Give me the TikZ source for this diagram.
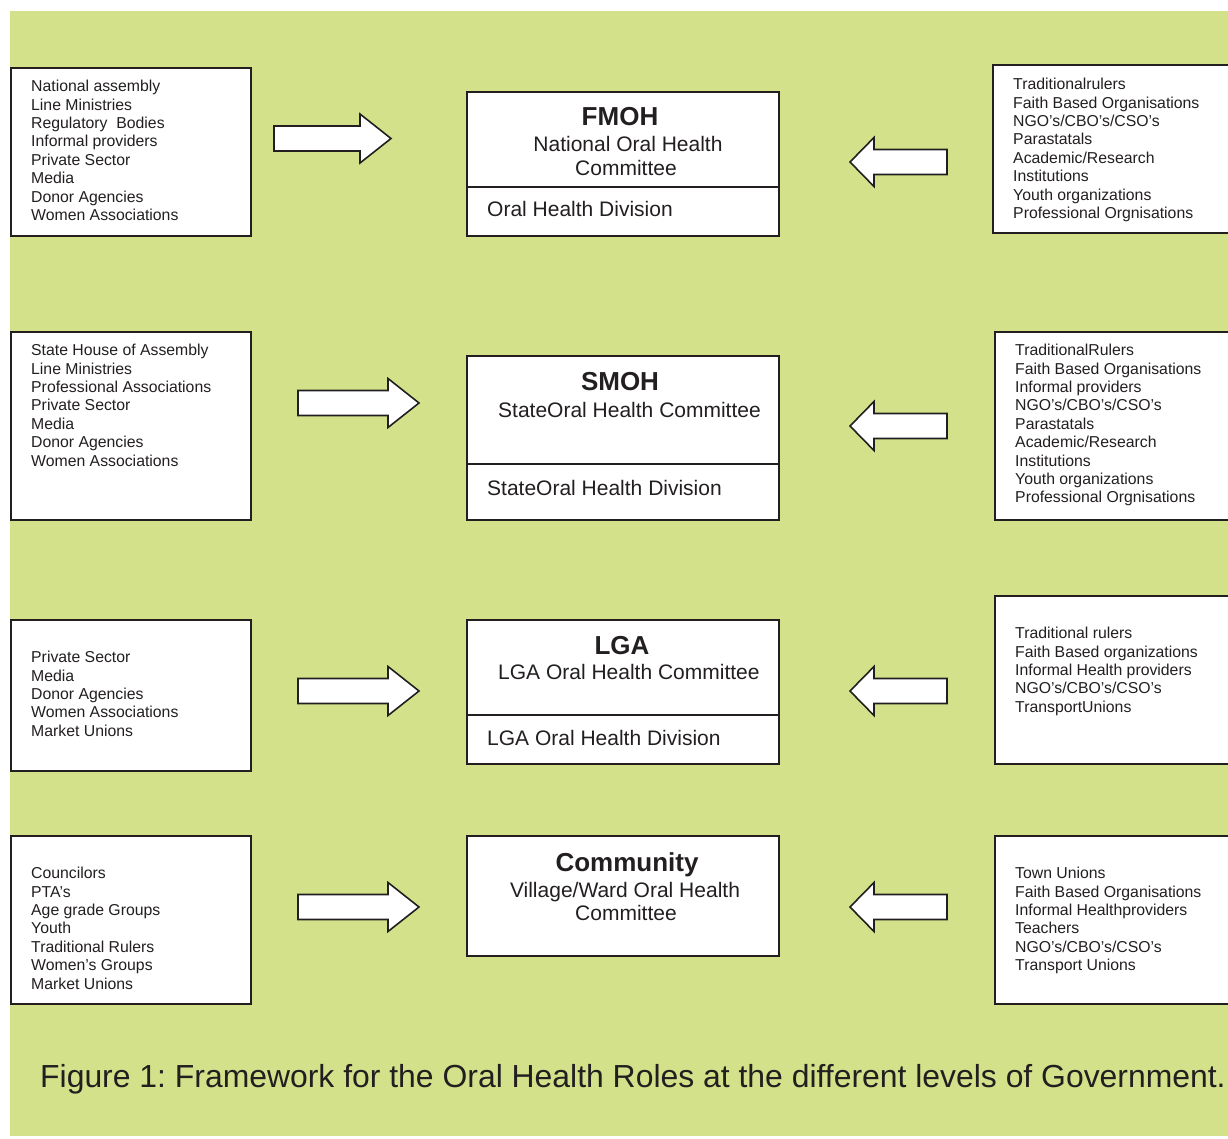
\documentclass[tikz,border=0pt]{standalone}
\usepackage{fontspec}
\setmainfont{Liberation Sans}
\frenchspacing
\definecolor{bg}{RGB}{211,226,138}
\definecolor{ink}{RGB}{35,31,32}
\begin{document}
\begin{tikzpicture}[x=1pt,y=1pt,
  box/.style={draw=ink, line width=1.6pt, fill=white, inner sep=0pt, anchor=north west},
  list/.style={anchor=north west, inner sep=0pt, align=left, text=ink,
    font=\fontsize{15.8}{18.4}\selectfont},
  title/.style={anchor=base, inner sep=0pt, text=ink, font=\fontsize{26}{30}\selectfont\bfseries},
  ctext/.style={anchor=base, inner sep=0pt, text=ink, font=\fontsize{21}{24}\selectfont},
  ltext/.style={anchor=base west, inner sep=0pt, text=ink, font=\fontsize{21}{24}\selectfont},
  divline/.style={draw=ink, line width=1.6pt},
  blockarrow/.style={draw=ink, line width=1.6pt, fill=white, line join=miter},
  pics/rarrow/.style={code={
    \draw[blockarrow] (0,12.5) -- (#1,12.5) -- (#1,24.5) -- ++(31,-24.5) -- ++(-31,-24.5)
      -- (#1,-12.5) -- (0,-12.5) -- cycle;}},
  pics/larrow/.style={code={
    \draw[blockarrow] (0,0) -- (24,24.5) -- (24,12.5) -- (97,12.5) -- (97,-12.5)
      -- (24,-12.5) -- (24,-24.5) -- cycle;}}
]
\useasboundingbox (0,0) rectangle (1228,-1138);
\clip (0,0) rectangle (1228,-1138);
\fill[bg] (10,-11) rectangle (1240,-1136);

% ---------- left boxes ----------
\node[box, minimum width=240, minimum height=168] (L1) at (10,-67) {};
\node[box, minimum width=240, minimum height=188] (L2) at (10,-331) {};
\node[box, minimum width=240, minimum height=151] (L3) at (10,-619) {};
\node[box, minimum width=240, minimum height=168] (L4) at (10,-835) {};

\node[list] (L1t) at (31,-80) {National assembly\\Line Ministries\\Regulatory\ \ Bodies\\Informal providers\\Private Sector\\Media\\Donor Agencies\\Women Associations};
\node[list] (L2t) at (31,-344) {State House of Assembly\\Line Ministries\\Professional Associations\\Private Sector\\Media\\Donor Agencies\\Women Associations};
\node[list] (L3t) at (31,-651) {Private Sector\\Media\\Donor Agencies\\Women Associations\\Market Unions};
\node[list] (L4t) at (31,-867) {Councilors\\PTA’s\\Age grade Groups\\Youth\\Traditional Rulers\\Women’s Groups\\Market Unions};

% ---------- right boxes ----------
\node[box, minimum width=260, minimum height=168] (R1) at (992,-64) {};
\node[box, minimum width=260, minimum height=188] (R2) at (994,-331) {};
\node[box, minimum width=260, minimum height=168] (R3) at (994,-595) {};
\node[box, minimum width=260, minimum height=168] (R4) at (994,-835) {};

\node[list] (R1t) at (1013,-78) {Traditionalrulers\\Faith Based Organisations\\NGO’s/CBO’s/CSO’s\\Parastatals\\Academic/Research\\Institutions\\Youth organizations\\Professional Orgnisations};
\node[list] (R2t) at (1015,-344) {TraditionalRulers\\Faith Based Organisations\\Informal providers\\NGO’s/CBO’s/CSO’s\\Parastatals\\Academic/Research\\Institutions\\Youth organizations\\Professional Orgnisations};
\node[list] (R3t) at (1015,-627) {Traditional rulers\\Faith Based organizations\\Informal Health providers\\NGO’s/CBO’s/CSO’s\\TransportUnions};
\node[list] (R4t) at (1015,-867) {Town Unions\\Faith Based Organisations\\Informal Healthproviders\\Teachers\\NGO’s/CBO’s/CSO’s\\Transport Unions};

% ---------- centre boxes ----------
\node[box, minimum width=312, minimum height=144] (C1) at (466,-91) {};
\draw[divline] (466,-187) -- (778,-187);
\node[title] (C1a) at (620,-125.5) {FMOH};
\node[ctext] (C1b) at (628,-151.5) {National Oral Health};
\node[ctext] (C1c) at (626,-175.5) {Committee};
\node[ltext] (C1d) at (487,-216.5) {Oral Health Division};

\node[box, minimum width=312, minimum height=164] (C2) at (466,-355) {};
\draw[divline] (466,-464) -- (778,-464);
\node[title] (C2a) at (620,-390) {SMOH};
\node[ltext] (C2b) at (498,-417) {StateOral Health Committee};
\node[ltext] (C2c) at (487,-495.5) {StateOral Health Division};

\node[box, minimum width=312, minimum height=144] (C3) at (466,-619) {};
\draw[divline] (466,-715) -- (778,-715);
\node[title] (C3a) at (622,-654) {LGA};
\node[ltext] (C3b) at (498,-679.5) {LGA Oral Health Committee};
\node[ltext] (C3c) at (487,-745) {LGA Oral Health Division};

\node[box, minimum width=312, minimum height=120] (C4) at (466,-835) {};
\node[title] (C4a) at (627,-871.5) {Community};
\node[ctext] (C4b) at (625,-897) {Village/Ward Oral Health};
\node[ctext] (C4c) at (626,-920.5) {Committee};

% ---------- block arrows ----------
\pic at (274,-138.5) {rarrow=86};
\pic at (298,-403) {rarrow=90};
\pic at (298,-691) {rarrow=90};
\pic at (298,-907) {rarrow=90};
\pic at (850,-162) {larrow};
\pic at (850,-426) {larrow};
\pic at (850,-691) {larrow};
\pic at (850,-907) {larrow};

% ---------- caption ----------
\node[anchor=base west, inner sep=0pt, text=ink, font=\fontsize{31.9}{36}\selectfont] (cap) at (40,-1087.5)
  {Figure 1: Framework for the Oral Health Roles at the different levels of Government.};
\end{tikzpicture}
\end{document}
